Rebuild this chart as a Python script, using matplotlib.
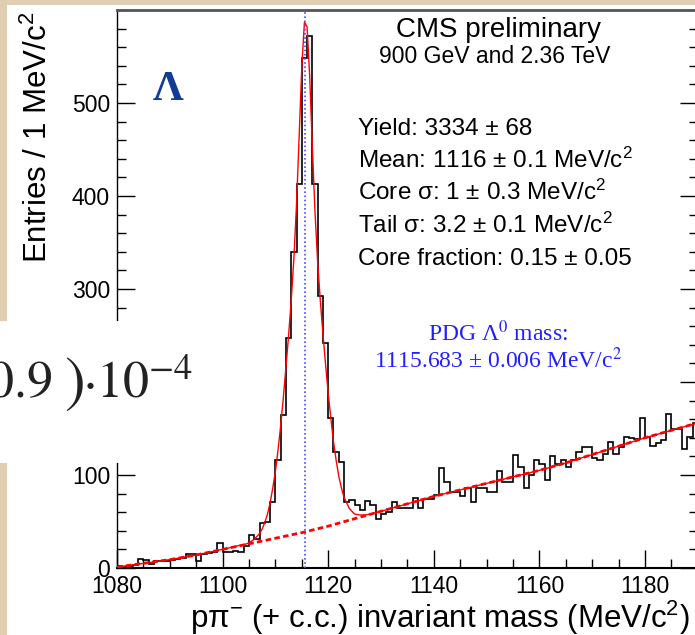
import numpy as np
import matplotlib
matplotlib.use('Agg')
import matplotlib.pyplot as plt
import matplotlib.patches as patches
from matplotlib.ticker import MultipleLocator

plt.rcParams['font.family'] = ['Liberation Sans', 'DejaVu Sans']
plt.rcParams['mathtext.fontset'] = 'custom'
plt.rcParams['mathtext.rm'] = 'Liberation Sans'
plt.rcParams['mathtext.it'] = 'Liberation Sans:italic'
plt.rcParams['mathtext.default'] = 'rm'

# ---- data ----
binLow = 1080          # first bin edge, 1 MeV bins
counts = [2, 1, 2, 3, 10, 9, 4, 7, 7, 7,
          9, 10, 11, 15, 15, 8, 15, 16, 17, 27,
          17, 17, 18, 17, 24, 35, 31, 48, 50, 71,
          116, 165, 247, 340, 413, 548, 572, 413, 293, 242,
          161, 125, 114, 71, 73, 68, 62, 72, 68, 53,
          58, 60, 71, 64, 64, 64, 75, 64, 74, 74,
          78, 107, 92, 82, 82, 77, 86, 71, 86, 86,
          82, 82, 104, 93, 93, 121, 109, 86, 100, 116,
          112, 95, 120, 112, 116, 109, 116, 125, 130, 130,
          118, 116, 123, 136, 123, 130, 141, 140, 139, 161,
          141, 131, 134, 138, 166, 150, 150, 128, 141, 156]

# total fit (signal + background)
fitMass = [1080, 1085, 1090, 1095, 1100, 1103, 1104, 1105, 1106, 1107,
           1107.5, 1108, 1108.5, 1109, 1109.5, 1110, 1110.5, 1111, 1111.5, 1112,
           1112.5, 1113, 1113.5, 1114, 1114.5, 1115, 1115.5, 1116, 1116.5, 1117,
           1117.5, 1118, 1118.5, 1119, 1119.5, 1120, 1120.5, 1121, 1121.5, 1122,
           1122.5, 1123, 1124, 1125, 1126, 1127, 1128, 1130, 1135, 1140,
           1145, 1150, 1155, 1160, 1165, 1170, 1175, 1180, 1185, 1190]
fitTotal = [1, 5, 9, 14, 20, 24, 25, 27, 31, 37,
            42, 49, 58, 70, 86, 104, 127, 153, 183, 216,
            250, 288, 333, 391, 464, 539, 587, 582, 528, 452,
            383, 329, 288, 252, 219, 188, 161, 136, 116, 99,
            86, 76, 64, 58, 57, 57, 58, 61, 69, 77,
            84, 91, 98, 105, 113, 122, 131, 140, 148, 156]

# background only
bkgMass = [1080, 1085, 1090, 1095, 1100, 1105, 1110, 1115, 1120, 1125, 1130, 1135,
           1140, 1145, 1150, 1155, 1160, 1165, 1170, 1175, 1180, 1185, 1190]
bkgVals = [1, 5, 9, 14, 20, 26, 32, 38, 45, 53, 61, 69,
           77, 84, 91, 98, 105, 113, 122, 131, 140, 148, 156]

pdgMass = 1115.683

yTicks = [0, 100, 200, 300, 400, 500]
yTickLabels = ['0', '100', '', '300', '400', '500']   # 200 is hidden under the pasted box
xTicks = [1080, 1100, 1120, 1140, 1160, 1180]

statLines = ['Yield: 3334 ± 68',
             'Mean: 1116 ± 0.1 MeV/c$^{2}$',
             'Core σ: 1 ± 0.3 MeV/c$^{2}$',
             'Tail σ: 3.2 ± 0.1 MeV/c$^{2}$',
             'Core fraction: 0.15 ± 0.05']

W, H = 695, 635
fig = plt.figure(figsize=(W/100, H/100), dpi=100, facecolor='#E0CEB2')

def fx(px):
    return px/W

def fy(py):
    return 1 - py/H

# white slide area over the textured background
fig.patches.append(patches.Rectangle((fx(7), 0), 1, fy(5), transform=fig.transFigure,
                                     facecolor='white', edgecolor='none', zorder=-1))

ax = fig.add_axes([fx(117), fy(568), (697.8-117)/W, (568-10)/H])
ax.set_facecolor('white')

edges = np.arange(binLow, binLow + len(counts) + 1)
ax.stairs(counts, edges, color='black', lw=1.2, zorder=2)
ax.plot(fitMass, fitTotal, color='red', lw=1.0, zorder=3)
ax.plot(bkgMass, bkgVals, color='red', lw=2.0, ls=(0, (2, 1.2)), zorder=4)
ax.axvline(pdgMass, color='#4a4aff', lw=1.2, ls=(0, (1, 1.5)), zorder=5)

ax.set_xlim(1080, 1190)
ax.set_ylim(0, 600)
ax.set_xticks(xTicks)
ax.set_yticks(yTicks)
ax.set_yticklabels(yTickLabels)
ax.xaxis.set_minor_locator(MultipleLocator(5))
ax.yaxis.set_minor_locator(MultipleLocator(20))
ax.tick_params(which='both', direction='in', right=True, top=False, labelsize=16.5, colors='black')
ax.tick_params(which='major', length=13, width=1.0)
ax.tick_params(which='minor', length=6.5, width=1.0)
ax.tick_params(axis='x', pad=5)
ax.tick_params(axis='y', pad=5)
ax.spines['top'].set_color('#555555')
ax.spines['top'].set_linewidth(2.0)
ax.spines['left'].set_linewidth(1.0)
ax.spines['bottom'].set_linewidth(1.5)
ax.spines['right'].set_visible(False)

# axis titles, ROOT style (at the end of the axis)
fig.text(fx(38), fy(12), 'Entries / 1 MeV/c$^{2}$', rotation=90, ha='center', va='top', fontsize=22.5)
fig.text(fx(690), fy(628), 'pπ$^{-}$ (+ c.c.) invariant mass (MeV/c$^{2}$)', ha='right', va='baseline', fontsize=22.5)

# labels inside the frame
fig.text(fx(498), fy(37), 'CMS preliminary', ha='center', va='baseline', fontsize=20)
fig.text(fx(495), fy(63), '900 GeV and 2.36 TeV', ha='center', va='baseline', fontsize=16.5)
for i, line in enumerate(statLines):
    fig.text(fx(358), fy(135 + 32.5*i), line, ha='left', va='baseline', fontsize=17.5)

fig.text(fx(168), fy(100), 'Λ', ha='center', va='baseline', fontsize=31, fontweight='bold',
         family='Liberation Serif', color='#123c94')
fig.text(fx(498), fy(341), 'PDG Λ$^{0}$ mass:', ha='center', va='baseline', fontsize=17,
         family='Liberation Serif', math_fontfamily='stix', color='#2020ff')
fig.text(fx(498), fy(368), '1115.683 ± 0.006 MeV/c$^{2}$', ha='center', va='baseline', fontsize=17,
         family='Liberation Serif', math_fontfamily='stix', color='#2020ff')

# piece of the slide pasted over the plot (formula cut at the left edge)
fig.patches.append(patches.Rectangle((0, fy(463)), fx(240), fy(321) - fy(463), transform=fig.transFigure,
                                     facecolor='white', edgecolor='none', zorder=5))
formulaKw = dict(va='baseline', math_fontfamily='stix', color='#222222', zorder=6)
fig.text(fx(52), fy(397), r'$0.9$', ha='right', fontsize=37.5, **formulaKw)
fig.text(fx(64), fy(400), r'$)$', ha='left', fontsize=45, **formulaKw)
fig.text(fx(88), fy(397), r'$\cdot$', ha='center', fontsize=37.5, **formulaKw)
fig.text(fx(96), fy(397), r'$10^{-4}$', ha='left', fontsize=37.5, **formulaKw)

fig.savefig('out.png', dpi=100, facecolor=fig.get_facecolor())
